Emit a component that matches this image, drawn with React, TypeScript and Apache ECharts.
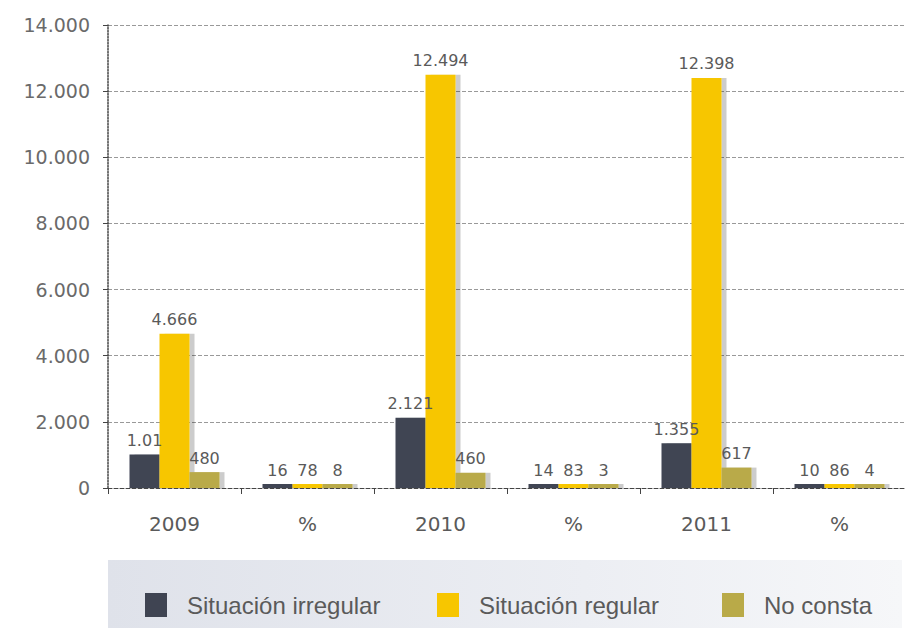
import React, { useEffect, useRef } from "react";
import * as echarts from "echarts";

const categories = ["2009", "%", "2010", "%", "2011", "%"];
const seriesNames = ["Situación irregular", "Situación regular", "No consta"];
const irregular = [1010, 16, 2121, 14, 1355, 10];
const regular = [4666, 78, 12494, 83, 12398, 86];
const noConsta = [480, 8, 460, 3, 617, 4];
const irregularLabels = ["1.01", "16", "2.121", "14", "1.355", "10"];
const regularLabels = ["4.666", "78", "12.494", "83", "12.398", "86"];
const noConstaLabels = ["480", "8", "460", "3", "617", "4"];
const colors = ["#3f4452", "#f7c600", "#b9aa48"];

const FONT = "'DejaVu Sans', sans-serif";
const LFONT = "'Liberation Sans', Arial, sans-serif";

export default function App() {
  const ref = useRef<HTMLDivElement>(null);
  useEffect(() => {
    if (!ref.current) return;
    const chart = echarts.init(ref.current, undefined, { renderer: "svg" });
    const mk = (name: string, data: number[], labels: string[], color: string) => ({
      name,
      type: "bar",
      data,
      barWidth: 30,
      barGap: "0%",
      barMinHeight: 4,
      itemStyle: {
        color,
        shadowColor: "rgba(0,0,0,0.2)",
        shadowOffsetX: 5,
        shadowOffsetY: 0,
        shadowBlur: 0,
      },
      label: {
        show: true,
        position: "top",
        distance: 6,
        color: "#5a5a5a",
        fontSize: 16,
        fontFamily: FONT,
        formatter: (p: any) => labels[p.dataIndex],
      },
    });
    const legendBase = {
      itemWidth: 22,
      itemHeight: 24,
      top: 588,
      icon: "rect",
      textStyle: {
        color: "#5a5a5a",
        fontSize: 24,
        fontFamily: LFONT,
        padding: [0, 0, 0, 15],
      },
    };
    chart.setOption({
      animation: false,
      graphic: [
        {
          type: "rect",
          left: 108,
          top: 560,
          shape: { width: 794, height: 68 },
          style: {
            fill: new echarts.graphic.LinearGradient(0, 0, 1, 0, [
              { offset: 0, color: "#dfe2ea" },
              { offset: 0.6, color: "#eceef3" },
              { offset: 1, color: "#f6f7f9" },
            ]),
          },
          z: -1,
        },
      ],
      legend: [
        { ...legendBase, left: 140, data: [seriesNames[0]] },
        { ...legendBase, left: 432, data: [seriesNames[1]] },
        { ...legendBase, left: 717, data: [seriesNames[2]] },
      ],
      grid: { left: 108, right: 0, top: 25, bottom: 140 },
      xAxis: {
        type: "category",
        data: categories,
        axisLine: { lineStyle: { color: "#444", type: "dashed", width: 1 } },
        axisTick: { show: true, length: 6, lineStyle: { color: "#444" } },
        axisLabel: { color: "#5a5a5a", fontSize: 20, fontFamily: FONT, margin: 26 },
      },
      yAxis: {
        type: "value",
        min: 0,
        max: 14000,
        interval: 2000,
        axisLine: { show: true, lineStyle: { color: "#444", type: "dotted", width: 1.5 } },
        axisTick: { show: true, length: 5, lineStyle: { color: "#444" } },
        axisLabel: {
          color: "#6a6a6a",
          fontSize: 19,
          fontFamily: FONT,
          margin: 18,
          formatter: (v: number) => v.toLocaleString("de-DE"),
        },
        splitLine: { lineStyle: { color: "#999", type: "dashed", width: 1 } },
      },
      series: [
        mk(seriesNames[0], irregular, irregularLabels, colors[0]),
        mk(seriesNames[1], regular, regularLabels, colors[1]),
        mk(seriesNames[2], noConsta, noConstaLabels, colors[2]),
      ],
    });
    return () => chart.dispose();
  }, []);
  return (
    <div
      ref={ref}
      style={{ position: "absolute", left: 0, top: 0, width: 906, height: 628 }}
    />
  );
}
